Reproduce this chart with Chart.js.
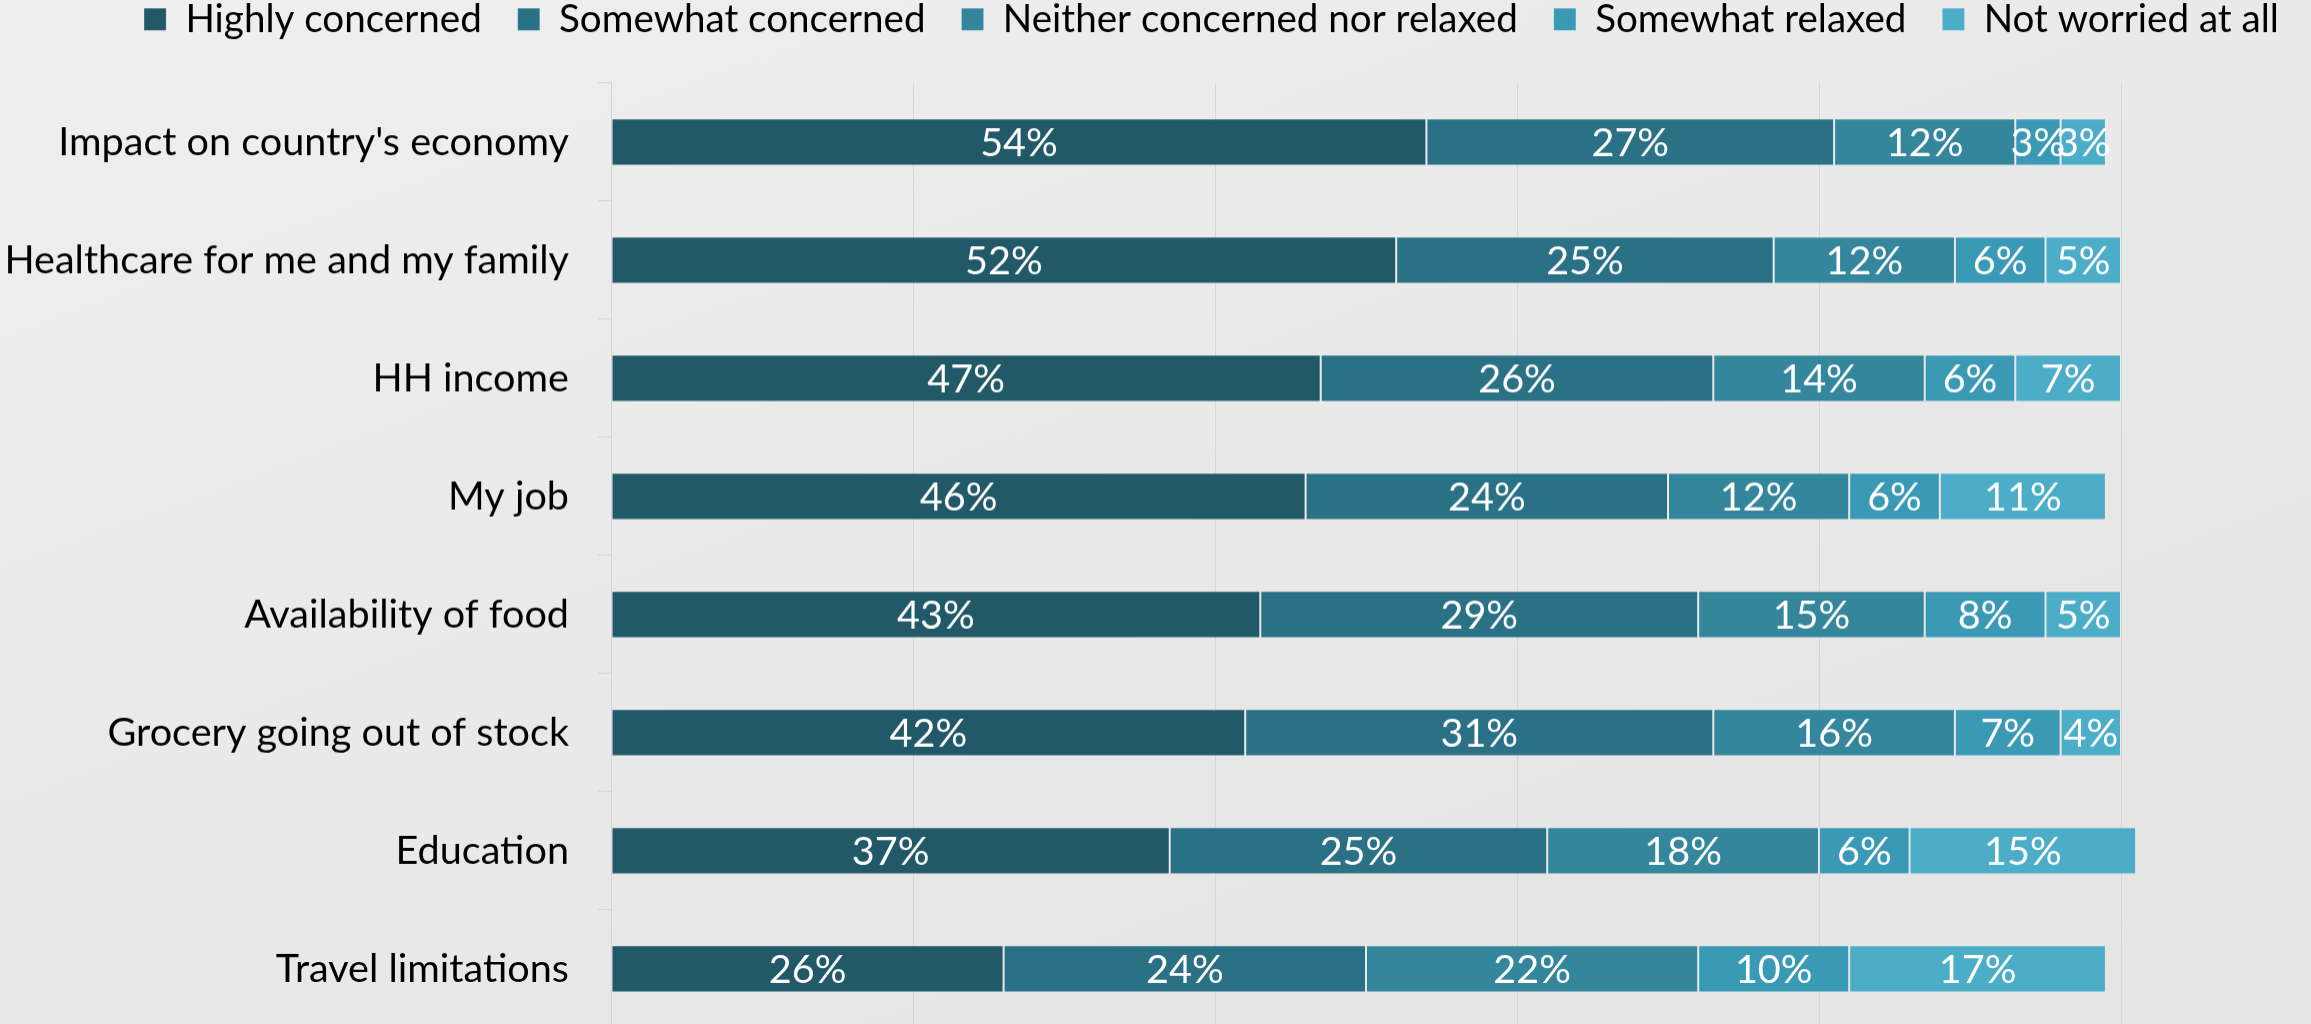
<!DOCTYPE html>
<html>
<head>
<meta charset="utf-8">
<script src="https://cdn.jsdelivr.net/npm/chart.js@4/dist/chart.umd.min.js"></script>
<style>
  html, body { margin: 0; padding: 0; width: 2311px; height: 1024px; overflow: hidden; }
  body { background: linear-gradient(160deg, #efefef 0%, #e9e9e9 50%, #e4e4e4 100%); position: relative; }
  #wrap { position: absolute; left: 0; top: 0; width: 2480px; height: 1070px; }
</style>
</head>
<body>
<div id="wrap"><canvas id="c"></canvas></div>
<script>
const categories = [
  "Impact on country's economy",
  "Healthcare for me and my family",
  "HH income",
  "My job",
  "Availability of food",
  "Grocery going out of stock",
  "Education",
  "Travel limitations"
];
const seriesNames = ["Highly concerned", "Somewhat concerned", "Neither concerned nor relaxed", "Somewhat relaxed", "Not worried at all"];
const highlyConcerned   = [54, 52, 47, 46, 43, 42, 37, 26];
const somewhatConcerned = [27, 25, 26, 24, 29, 31, 25, 24];
const neither           = [12, 12, 14, 12, 15, 16, 18, 22];
const somewhatRelaxed   = [3, 6, 6, 6, 8, 7, 6, 10];
const notWorried        = [3, 5, 7, 11, 5, 4, 15, 17];
const xTicks = [0, 20, 40, 60, 80, 100, 120];
const colors = ["#215968", "#2A7186", "#33869B", "#3A9AB6", "#4BADC7"];

const FONT = "Lato, 'Open Sans', sans-serif";
const mctx = document.createElement('canvas').getContext('2d');
mctx.font = "100px " + FONT;
const fsz = Math.round(100 * 565 / mctx.measureText("Healthcare for me and my family").width * 10) / 10;
const legFsz = Math.round(fsz * 0.975 * 10) / 10;

// layout geometry (viewport px)
const LEG_PAD = 36;
const LEG_CENTER_Y = 19;
const AREA_TOP = 82.5;
const AREA_BOTTOM = 1026.5;
const T = LEG_PAD + legFsz / 2 - LEG_CENTER_Y;
const wrap = document.getElementById('wrap');
wrap.style.top = (-T) + "px";
wrap.style.height = (T + AREA_BOTTOM) + "px";

const values = [highlyConcerned, somewhatConcerned, neither, somewhatRelaxed, notWorried];
const datasets = values.map((v, i) => ({
  label: seriesNames[i],
  data: v,
  backgroundColor: colors[i],
  borderColor: "rgba(255,255,255,0.13)",
  borderWidth: 1,
  borderSkipped: false,
  barPercentage: 0.4,
  categoryPercentage: 1.0
}));

const legendHeightPlugin = {
  id: 'legendHeight',
  beforeLayout(chart) {
    const lg = chart.legend;
    if (lg && !lg._patched) {
      const orig = lg.fit.bind(lg);
      lg.fit = function () { orig(); this.height = T + AREA_TOP; this.bottom = this.top + this.height; };
      lg._patched = true;
    }
  }
};

const labelPlugin = {
  id: 'barLabels',
  afterDatasetsDraw(chart) {
    const ctx = chart.ctx;
    ctx.save();
    ctx.font = fsz + "px " + FONT;
    ctx.fillStyle = "#ffffff";
    ctx.textAlign = "center";
    ctx.textBaseline = "middle";
    chart.data.datasets.forEach((ds, di) => {
      const meta = chart.getDatasetMeta(di);
      meta.data.forEach((el, j) => {
        const p = el.getCenterPoint();
        ctx.fillText(ds.data[j] + "%", p.x, p.y + 1);
      });
    });
    ctx.restore();
  }
};

new Chart(document.getElementById('c'), {
  type: 'bar',
  data: { labels: categories, datasets },
  plugins: [legendHeightPlugin, labelPlugin],
  options: {
    indexAxis: 'y',
    responsive: true,
    maintainAspectRatio: false,
    animation: false,
    layout: { padding: { left: 0, right: 57, top: 0, bottom: 0 } },
    plugins: {
      tooltip: { enabled: false },
      legend: {
        position: 'top',
        labels: {
          boxWidth: 22, boxHeight: 22,
          padding: LEG_PAD,
          color: "#000000",
          font: { family: FONT, size: legFsz }
        }
      }
    },
    scales: {
      x: {
        stacked: true,
        min: 0, max: 120,
        afterBuildTicks(scale) { scale.ticks = xTicks.map(v => ({ value: v })); },
        afterFit(scale) { scale.height = 0; scale.paddingLeft = 0; scale.paddingRight = 0; },
        ticks: { display: false },
        grid: { color: "#d6d6d6", lineWidth: 1, drawTicks: false },
        border: { display: false }
      },
      y: {
        stacked: true,
        afterFit(scale) { scale.width = 611; scale.paddingTop = 0; scale.paddingBottom = 0; },
        ticks: { color: "#000000", font: { family: FONT, size: fsz }, padding: 29 },
        grid: { drawOnChartArea: false, drawTicks: true, tickLength: 13, color: "#d4d4d4" },
        border: { display: true, color: "#d4d4d4", width: 1 }
      }
    }
  }
});
</script>
</body>
</html>
